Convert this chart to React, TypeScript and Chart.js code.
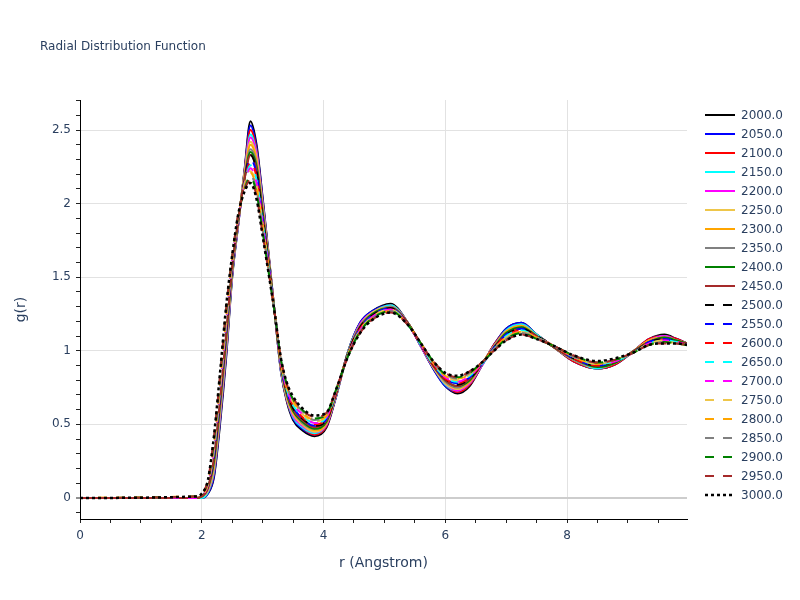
import { useEffect, useRef } from "react";
import { Chart, registerables } from "chart.js";

Chart.register(...registerables);

// r grid shared by every temperature (Angstrom)
const rValues = [
  0, 1.9, 2.0,
  2.1, 2.2, 2.3, 2.4, 2.5, 2.6, 2.7, 2.8, 2.9,
  3.0, 3.1, 3.2, 3.3, 3.4, 3.5, 3.65, 3.85,
  4.05, 4.2, 4.4, 4.6, 4.8, 5.1, 5.4, 5.6, 5.8,
  6.0, 6.2, 6.4, 6.6, 6.8, 7.0, 7.25, 7.5, 7.8,
  8.1, 8.5, 8.8, 9.1, 9.35, 9.6, 9.8, 9.97,
];

const temperatures = [
  "2000.0", "2050.0", "2100.0", "2150.0", "2200.0", "2250.0", "2300.0",
  "2350.0", "2400.0", "2450.0", "2500.0", "2550.0", "2600.0", "2650.0",
  "2700.0", "2750.0", "2800.0", "2850.0", "2900.0", "2950.0", "3000.0",
];

const g2000 = [0, 0, 0, 0.03, 0.14, 0.5, 0.95, 1.5, 1.86, 2.22, 2.56, 2.4, 2.04, 1.65, 1.25, 0.86, 0.65, 0.53, 0.46, 0.42, 0.48, 0.68, 0.99, 1.19, 1.27, 1.32, 1.18, 1.03, 0.88, 0.76, 0.71, 0.76, 0.9, 1.04, 1.15, 1.19, 1.11, 1.02, 0.93, 0.88, 0.91, 1.0, 1.08, 1.11, 1.08, 1.05];
const g2050 = [0, 0, 0, 0.03, 0.15, 0.52, 0.97, 1.51, 1.86, 2.21, 2.53, 2.38, 2.03, 1.64, 1.25, 0.86, 0.66, 0.54, 0.47, 0.43, 0.49, 0.68, 0.99, 1.19, 1.27, 1.31, 1.18, 1.03, 0.88, 0.76, 0.72, 0.77, 0.9, 1.04, 1.15, 1.19, 1.11, 1.02, 0.93, 0.88, 0.91, 1.0, 1.08, 1.1, 1.08, 1.05];
const g2100 = [0, 0, 0, 0.04, 0.17, 0.54, 0.99, 1.52, 1.87, 2.21, 2.5, 2.36, 2.01, 1.64, 1.25, 0.87, 0.66, 0.55, 0.48, 0.43, 0.49, 0.69, 0.99, 1.18, 1.26, 1.31, 1.18, 1.03, 0.89, 0.77, 0.72, 0.77, 0.9, 1.04, 1.14, 1.18, 1.11, 1.02, 0.93, 0.88, 0.91, 1.0, 1.08, 1.1, 1.08, 1.05];
const g2150 = [0, 0, 0, 0.04, 0.18, 0.55, 1.0, 1.52, 1.87, 2.2, 2.47, 2.34, 2.0, 1.63, 1.25, 0.87, 0.67, 0.55, 0.48, 0.44, 0.5, 0.69, 0.99, 1.18, 1.26, 1.31, 1.18, 1.03, 0.89, 0.77, 0.73, 0.78, 0.9, 1.03, 1.14, 1.18, 1.11, 1.02, 0.94, 0.88, 0.92, 1.0, 1.07, 1.1, 1.07, 1.05];
const g2200 = [0, 0, 0.01, 0.05, 0.2, 0.57, 1.02, 1.53, 1.87, 2.19, 2.45, 2.33, 1.99, 1.62, 1.25, 0.88, 0.68, 0.56, 0.49, 0.45, 0.5, 0.69, 0.98, 1.18, 1.26, 1.3, 1.18, 1.03, 0.89, 0.78, 0.73, 0.78, 0.9, 1.03, 1.13, 1.17, 1.1, 1.02, 0.94, 0.89, 0.92, 1.0, 1.07, 1.1, 1.07, 1.05];
const g2250 = [0, 0, 0.01, 0.05, 0.21, 0.59, 1.04, 1.54, 1.88, 2.19, 2.42, 2.31, 1.98, 1.62, 1.25, 0.88, 0.68, 0.57, 0.5, 0.45, 0.51, 0.69, 0.98, 1.17, 1.26, 1.3, 1.18, 1.04, 0.89, 0.78, 0.74, 0.79, 0.91, 1.03, 1.13, 1.17, 1.1, 1.02, 0.94, 0.89, 0.92, 1.0, 1.07, 1.09, 1.07, 1.05];
const g2300 = [0, 0, 0.01, 0.06, 0.22, 0.61, 1.06, 1.55, 1.88, 2.18, 2.4, 2.29, 1.96, 1.61, 1.25, 0.89, 0.69, 0.58, 0.51, 0.46, 0.51, 0.7, 0.98, 1.17, 1.25, 1.3, 1.18, 1.04, 0.9, 0.79, 0.75, 0.79, 0.91, 1.03, 1.13, 1.17, 1.1, 1.02, 0.94, 0.89, 0.92, 1.0, 1.07, 1.09, 1.07, 1.05];
const g2350 = [0, 0, 0.01, 0.06, 0.24, 0.62, 1.07, 1.55, 1.88, 2.17, 2.37, 2.27, 1.95, 1.6, 1.25, 0.89, 0.7, 0.59, 0.51, 0.47, 0.52, 0.7, 0.98, 1.17, 1.25, 1.3, 1.18, 1.04, 0.9, 0.79, 0.75, 0.8, 0.91, 1.03, 1.12, 1.16, 1.1, 1.02, 0.94, 0.89, 0.92, 1.0, 1.06, 1.09, 1.07, 1.05];
const g2400 = [0, 0, 0.01, 0.07, 0.25, 0.64, 1.09, 1.56, 1.89, 2.16, 2.35, 2.25, 1.94, 1.6, 1.25, 0.9, 0.7, 0.59, 0.52, 0.47, 0.52, 0.7, 0.98, 1.16, 1.25, 1.29, 1.18, 1.04, 0.9, 0.8, 0.76, 0.8, 0.91, 1.02, 1.12, 1.16, 1.1, 1.02, 0.95, 0.89, 0.92, 1.0, 1.06, 1.09, 1.07, 1.05];
const g2450 = [0, 0, 0.01, 0.07, 0.27, 0.66, 1.11, 1.57, 1.89, 2.16, 2.33, 2.23, 1.92, 1.59, 1.25, 0.9, 0.71, 0.6, 0.53, 0.48, 0.53, 0.7, 0.98, 1.16, 1.24, 1.29, 1.18, 1.04, 0.9, 0.8, 0.76, 0.81, 0.91, 1.02, 1.11, 1.15, 1.1, 1.02, 0.95, 0.9, 0.93, 1.0, 1.06, 1.08, 1.06, 1.05];
const g2500 = [0, 0, 0.02, 0.08, 0.28, 0.68, 1.13, 1.58, 1.9, 2.15, 2.33, 2.22, 1.91, 1.59, 1.25, 0.91, 0.72, 0.61, 0.54, 0.49, 0.53, 0.71, 0.98, 1.16, 1.24, 1.29, 1.17, 1.04, 0.91, 0.81, 0.77, 0.81, 0.91, 1.02, 1.11, 1.15, 1.1, 1.03, 0.95, 0.9, 0.93, 0.99, 1.06, 1.08, 1.06, 1.04];
const g2550 = [0, 0, 0.02, 0.08, 0.29, 0.69, 1.14, 1.58, 1.9, 2.14, 2.3, 2.2, 1.9, 1.58, 1.25, 0.91, 0.72, 0.62, 0.54, 0.49, 0.54, 0.71, 0.97, 1.15, 1.24, 1.29, 1.17, 1.04, 0.91, 0.81, 0.78, 0.82, 0.91, 1.02, 1.11, 1.15, 1.09, 1.03, 0.95, 0.9, 0.93, 0.99, 1.06, 1.08, 1.06, 1.04];
const g2600 = [0, 0, 0.02, 0.08, 0.31, 0.71, 1.16, 1.59, 1.9, 2.14, 2.28, 2.18, 1.88, 1.57, 1.25, 0.91, 0.73, 0.63, 0.55, 0.5, 0.54, 0.71, 0.97, 1.15, 1.23, 1.28, 1.17, 1.04, 0.91, 0.81, 0.78, 0.82, 0.91, 1.02, 1.1, 1.14, 1.09, 1.03, 0.95, 0.9, 0.93, 0.99, 1.05, 1.07, 1.06, 1.04];
const g2650 = [0, 0, 0.02, 0.09, 0.32, 0.73, 1.18, 1.6, 1.91, 2.13, 2.26, 2.16, 1.87, 1.57, 1.25, 0.92, 0.73, 0.63, 0.56, 0.51, 0.55, 0.71, 0.97, 1.14, 1.23, 1.28, 1.17, 1.04, 0.91, 0.82, 0.79, 0.83, 0.91, 1.01, 1.1, 1.14, 1.09, 1.03, 0.96, 0.91, 0.93, 0.99, 1.05, 1.07, 1.06, 1.04];
const g2700 = [0, 0, 0.02, 0.09, 0.34, 0.75, 1.2, 1.61, 1.91, 2.12, 2.24, 2.14, 1.86, 1.56, 1.25, 0.92, 0.74, 0.64, 0.57, 0.51, 0.55, 0.72, 0.97, 1.14, 1.23, 1.28, 1.17, 1.04, 0.92, 0.82, 0.79, 0.83, 0.91, 1.01, 1.09, 1.13, 1.09, 1.03, 0.96, 0.91, 0.93, 0.99, 1.05, 1.07, 1.06, 1.04];
const g2750 = [0, 0.01, 0.02, 0.1, 0.35, 0.76, 1.21, 1.61, 1.91, 2.12, 2.22, 2.12, 1.85, 1.55, 1.25, 0.93, 0.75, 0.65, 0.57, 0.52, 0.56, 0.72, 0.97, 1.14, 1.23, 1.28, 1.17, 1.05, 0.92, 0.83, 0.8, 0.84, 0.92, 1.01, 1.09, 1.13, 1.09, 1.03, 0.96, 0.91, 0.94, 0.99, 1.05, 1.07, 1.05, 1.04];
const g2800 = [0, 0.01, 0.02, 0.1, 0.36, 0.78, 1.23, 1.62, 1.92, 2.11, 2.21, 2.1, 1.83, 1.55, 1.25, 0.93, 0.75, 0.66, 0.58, 0.53, 0.56, 0.72, 0.97, 1.13, 1.22, 1.27, 1.17, 1.05, 0.92, 0.83, 0.81, 0.84, 0.92, 1.01, 1.09, 1.13, 1.09, 1.03, 0.96, 0.91, 0.94, 0.99, 1.04, 1.06, 1.05, 1.04];
const g2850 = [0, 0.01, 0.03, 0.11, 0.38, 0.8, 1.25, 1.63, 1.92, 2.1, 2.19, 2.09, 1.82, 1.54, 1.25, 0.94, 0.76, 0.67, 0.59, 0.53, 0.57, 0.72, 0.97, 1.13, 1.22, 1.27, 1.17, 1.05, 0.92, 0.84, 0.81, 0.85, 0.92, 1.01, 1.08, 1.12, 1.09, 1.03, 0.96, 0.92, 0.94, 0.99, 1.04, 1.06, 1.05, 1.04];
const g2900 = [0, 0.01, 0.03, 0.11, 0.39, 0.82, 1.27, 1.64, 1.92, 2.09, 2.18, 2.07, 1.81, 1.53, 1.25, 0.94, 0.77, 0.67, 0.6, 0.54, 0.57, 0.73, 0.96, 1.13, 1.22, 1.27, 1.17, 1.05, 0.93, 0.84, 0.82, 0.85, 0.92, 1.0, 1.08, 1.12, 1.08, 1.03, 0.97, 0.92, 0.94, 0.99, 1.04, 1.06, 1.05, 1.04];
const g2950 = [0, 0.01, 0.03, 0.12, 0.41, 0.83, 1.28, 1.64, 1.93, 2.09, 2.16, 2.05, 1.79, 1.53, 1.25, 0.95, 0.77, 0.68, 0.6, 0.55, 0.58, 0.73, 0.96, 1.12, 1.21, 1.26, 1.17, 1.05, 0.93, 0.85, 0.82, 0.86, 0.92, 1.0, 1.07, 1.11, 1.08, 1.03, 0.97, 0.92, 0.94, 0.99, 1.04, 1.05, 1.05, 1.04];
const g3000 = [0, 0.01, 0.03, 0.12, 0.42, 0.85, 1.3, 1.65, 1.93, 2.08, 2.14, 2.03, 1.78, 1.52, 1.25, 0.95, 0.78, 0.69, 0.61, 0.56, 0.58, 0.73, 0.96, 1.12, 1.21, 1.26, 1.17, 1.05, 0.93, 0.85, 0.83, 0.86, 0.92, 1.0, 1.07, 1.11, 1.08, 1.03, 0.97, 0.93, 0.95, 0.99, 1.04, 1.05, 1.05, 1.04];

const seriesValues = [
  g2000, g2050, g2100, g2150, g2200, g2250, g2300, g2350, g2400, g2450,
  g2500, g2550, g2600, g2650, g2700, g2750, g2800, g2850, g2900, g2950, g3000,
];

const palette = ["#000000", "#0000ff", "#ff0000", "#00ffff", "#ff00ff", "#eec64a", "#ffa500", "#808080", "#008000", "#a52a2a"];

const xLabelTicks = [0, 2, 4, 6, 8];
const yLabelTicks = [0, 0.5, 1, 1.5, 2, 2.5];

const TEXT = "#2a3f5f";
const FONT = "'DejaVu Sans', Verdana, sans-serif";

function dashFor(i: number): number[] {
  if (i === 20) return [3, 3];
  if (i >= 10) return [9, 9];
  return [];
}

export default function App() {
  const canvasRef = useRef<HTMLCanvasElement>(null);

  useEffect(() => {
    if (!canvasRef.current) return;
    const datasets = seriesValues.map((vals, i) => ({
      label: temperatures[i],
      data: rValues.map((r, k) => ({ x: r, y: vals[k] })),
      borderColor: palette[i % 10],
      borderWidth: i === 20 ? 2.5 : 2,
      borderDash: dashFor(i),
      pointRadius: 0,
      cubicInterpolationMode: "monotone" as const,
      fill: false,
      order: 20 - i,
    }));

    const chart = new Chart(canvasRef.current, {
      type: "line",
      data: { datasets },
      options: {
        animation: false,
        responsive: false,
        layout: { padding: { left: 0, right: 113, top: 100, bottom: 0 } },
        plugins: { legend: { display: false }, tooltip: { enabled: false } },
        scales: {
          x: {
            type: "linear",
            min: 0,
            max: 9.97,
            afterFit: (s: any) => { s.height = 81; },
            afterBuildTicks: (axis: any) => {
              const t = [];
              for (let k = 0; k <= 19; k++) t.push({ value: k / 2 });
              axis.ticks = t;
            },
            border: { display: true, color: "#000", width: 1 },
            grid: {
              color: (ctx: any) => (ctx.tick && xLabelTicks.includes(ctx.tick.value) ? "#e2e2e2" : "rgba(0,0,0,0)"),
              lineWidth: 1,
              tickColor: "#222",
              tickWidth: 1,
              tickLength: 4,
            },
            ticks: {
              autoSkip: false,
              maxRotation: 0,
              padding: 6,
              color: TEXT,
              font: { family: FONT, size: 12 },
              callback: (v: any) => (xLabelTicks.includes(v) ? String(v) : ""),
            },
            title: {
              display: true,
              text: "r (Angstrom)",
              color: TEXT,
              font: { family: FONT, size: 14 },
              padding: { top: 0, bottom: 28 },
            },
          },
          y: {
            type: "linear",
            min: -0.143,
            max: 2.704,
            afterFit: (s: any) => { s.width = 80; },
            afterBuildTicks: (axis: any) => {
              const t = [];
              for (let k = -1; k <= 27; k++) t.push({ value: k / 10 });
              axis.ticks = t;
            },
            border: { display: true, color: "#000", width: 1 },
            grid: {
              color: (ctx: any) => {
                if (!ctx.tick || !yLabelTicks.includes(ctx.tick.value)) return "rgba(0,0,0,0)";
                return ctx.tick.value === 0 ? "#cdcdcd" : "#e2e2e2";
              },
              lineWidth: (ctx: any) => (ctx.tick && ctx.tick.value === 0 ? 2 : 1),
              tickColor: "#222",
              tickWidth: 1,
              tickLength: 4,
            },
            ticks: {
              autoSkip: false,
              padding: 5,
              color: TEXT,
              font: { family: FONT, size: 12 },
              callback: (v: any) => (yLabelTicks.includes(v) ? String(v) : ""),
            },
            title: {
              display: true,
              text: "g(r)",
              color: TEXT,
              font: { family: FONT, size: 14 },
              padding: { top: 13, bottom: 0 },
            },
          },
        },
      },
    });
    return () => chart.destroy();
  }, []);

  return (
    <div style={{ position: "absolute", left: 0, top: 0, width: 800, height: 600, background: "#fff", fontFamily: FONT }}>
      <canvas ref={canvasRef} width={800} height={600} style={{ position: "absolute", left: 0, top: 0 }} />
      <div style={{ position: "absolute", left: 40, top: 38, fontSize: 12, lineHeight: "16px", color: TEXT, whiteSpace: "nowrap" }}>
        Radial Distribution Function
      </div>
      {temperatures.map((t, i) => (
        <div
          key={t}
          style={{ position: "absolute", left: 705, top: 106 + 19 * i, height: 18, display: "flex", alignItems: "center" }}
        >
          <svg width={30} height={6}>
            <line
              x1={0} y1={3} x2={30} y2={3}
              stroke={palette[i % 10]}
              strokeWidth={i === 20 ? 2.5 : 2}
              strokeDasharray={dashFor(i).join(",") || undefined}
            />
          </svg>
          <span style={{ marginLeft: 6, fontSize: 12, color: TEXT, whiteSpace: "nowrap" }}>{t}</span>
        </div>
      ))}
    </div>
  );
}
